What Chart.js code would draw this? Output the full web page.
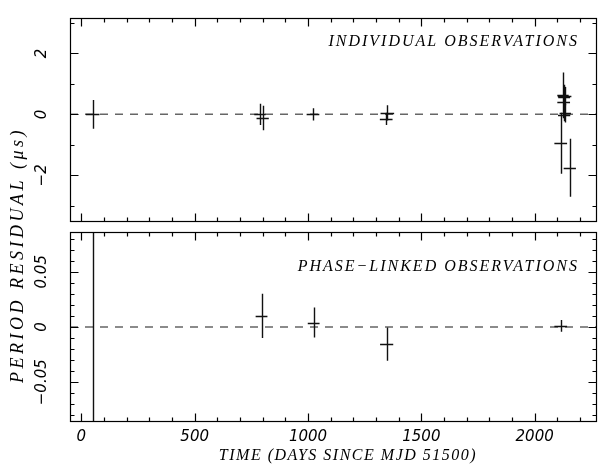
<!DOCTYPE html>
<html><head><meta charset="utf-8">
<script src="https://cdn.jsdelivr.net/npm/chart.js@4"></script>
<style>
html,body{margin:0;padding:0;background:#fff;}
#wrap{position:relative;width:599px;height:468px;}
canvas{position:absolute;left:0;top:0;}
</style></head>
<body><div id="wrap"><canvas id="c1" width="599" height="468"></canvas><canvas id="c2" width="599" height="468"></canvas></div>
<script>
// ---- data ----
const topTime   = [50, 788, 800, 1022, 1350, 1345, 2125, 2128, 2130, 2132, 2135, 2130, 2115, 2155];
const topResid  = [0, 0.0, -0.12, 0.0, 0.05, -0.15, 0.62, 0.42, 0.57, 0.6, 0.03, -0.03, -0.95, -1.75];
const topErr    = [0.47, 0.35, 0.4, 0.2, 0.25, 0.2, 0.75, 0.5, 0.4, 0.3, 0.3, 0.2, 1.0, 0.95];
const topTimeErr= [30, 25, 27, 28, 30, 28, 25, 28, 26, 30, 25, 27, 28, 27];

const botTime   = [52, 795, 1025, 1347, 2115];
const botResid  = [0, 0.01, 0.004, -0.0155, 0.001];
const botErr    = [1, 0.02, 0.0136, 0.015, 0.0053];
const botTimeErr= [0, 26, 26, 29, 28];

const xTicks = [0, 500, 1000, 1500, 2000];
const topYTicks = [-2, 0, 2];
const botYTicks = [-0.05, 0, 0.05];
const topYTickLabels = ['\u22122', '0', '2'];
const botYTickLabels = ['\u22120.05', '0', '0.05'];

const topLabel = 'INDIVIDUAL OBSERVATIONS';
const botLabel = 'PHASE\u2212LINKED OBSERVATIONS';
const xTitle = 'TIME (DAYS SINCE MJD 51500)';
const yTitle = 'PERIOD RESIDUAL (\u03bcs)';

// ---- helpers ----
const X_MIN = -50, X_MAX = 2275;
const SERIF = "italic 16px 'Liberation Serif'";
const TICKFONT = "italic 15px 'DejaVu Sans'";

function mkPoints(t, v, e, te){ return t.map((x,i)=>({x:x, y:v[i], ye:e[i], xe:te[i]})); }

function panelPlugin(cfg){
  return {
    id:'panel',
    afterDatasetsDraw(chart){
      const ctx=chart.ctx, a=chart.chartArea, xs=chart.scales.x, ys=chart.scales.y;
      ctx.save();
      ctx.beginPath(); ctx.rect(a.left,a.top,a.right-a.left,a.bottom-a.top); ctx.clip();
      ctx.strokeStyle='#111'; ctx.lineWidth=1.4;
      chart.data.datasets[1].data.forEach(d=>{
        const px=Math.round(xs.getPixelForValue(d.x))+0.5, py=Math.round(ys.getPixelForValue(d.y))+0.5;
        ctx.beginPath();
        ctx.moveTo(px, ys.getPixelForValue(d.y+d.ye)); ctx.lineTo(px, ys.getPixelForValue(d.y-d.ye));
        if(d.xe>0){ ctx.moveTo(xs.getPixelForValue(d.x-d.xe), py); ctx.lineTo(xs.getPixelForValue(d.x+d.xe), py); }
        ctx.stroke();
      });
      ctx.restore();
    },
    afterDraw(chart){
      const ctx=chart.ctx, a=chart.chartArea, xs=chart.scales.x, ys=chart.scales.y;
      ctx.save();
      ctx.strokeStyle='#000'; ctx.lineWidth=1.2;
      const L=Math.round(a.left)+0.5, R=Math.round(a.right)-0.5, T=Math.round(a.top)+0.5, B=Math.round(a.bottom)-0.5;
      ctx.strokeRect(L,T,R-L,B-T);
      ctx.beginPath();
      for(let v=0; v<=X_MAX; v+=100){
        const p=Math.round(xs.getPixelForValue(v))+0.5; const len=(v%500===0)?8:4;
        ctx.moveTo(p,B); ctx.lineTo(p,B-len); ctx.moveTo(p,T); ctx.lineTo(p,T+len);
      }
      for(let k=Math.ceil(ys.min/cfg.minor-1e-9); k*cfg.minor<=ys.max+1e-12; k++){
        const v=k*cfg.minor; const p=Math.round(ys.getPixelForValue(v))+0.5;
        const major = Math.abs(Math.round(k*cfg.minor/cfg.major)*cfg.major - v) < 1e-9;
        const len = major?8:4;
        ctx.moveTo(L,p); ctx.lineTo(L+len,p); ctx.moveTo(R,p); ctx.lineTo(R-len,p);
      }
      ctx.stroke();
      ctx.fillStyle='#000'; ctx.font=TICKFONT; ctx.textAlign='center'; ctx.textBaseline='middle';
      cfg.yTicks.forEach((v,i)=>{
        const p=ys.getPixelForValue(v);
        ctx.save(); ctx.translate(42,p); ctx.rotate(-Math.PI/2); ctx.fillText(cfg.yLabels[i],0,0); ctx.restore();
      });
      if(cfg.showX){
        xTicks.forEach(v=>{ ctx.fillText(String(v), xs.getPixelForValue(v), 437); });
        ctx.font=SERIF; ctx.letterSpacing='1.5px';
        ctx.fillText(xTitle, 348, 456);
        ctx.font="italic 18px 'Liberation Serif'"; ctx.letterSpacing='3.5px';
        ctx.save(); ctx.translate(18,255); ctx.rotate(-Math.PI/2); ctx.fillText(yTitle,0,0); ctx.restore();
      }
      ctx.font=SERIF; ctx.letterSpacing='2px'; ctx.textAlign='right';
      ctx.fillText(cfg.label, a.right-18, a.top+cfg.labelDy);
      ctx.restore();
    }
  };
}

function makeChart(id, pts, yMin, yMax, pad, cfg){
  return new Chart(document.getElementById(id), {
    type:'scatter',
    data:{datasets:[
      {type:'line', data:[{x:X_MIN,y:0},{x:X_MAX,y:0}], borderColor:'#666', borderWidth:1.5, borderDash:[8,7], pointRadius:0, fill:false},
      {data:pts, pointRadius:0, showLine:false}
    ]},
    options:{
      responsive:false, animation:false, events:[],
      layout:{padding:pad},
      plugins:{legend:{display:false}, tooltip:{enabled:false}},
      scales:{
        x:{type:'linear', min:X_MIN, max:X_MAX, display:false},
        y:{type:'linear', min:yMin, max:yMax, display:false}
      }
    },
    plugins:[panelPlugin(cfg)]
  });
}

makeChart('c1', mkPoints(topTime, topResid, topErr, topTimeErr), -3.53, 3.16,
  {left:70, right:2, top:18, bottom:246},
  {minor:1, major:2, yTicks:topYTicks, yLabels:topYTickLabels, label:topLabel, labelDy:24, showX:false});
makeChart('c2', mkPoints(botTime, botResid, botErr, botTimeErr), -0.086, 0.086,
  {left:70, right:2, top:232, bottom:46},
  {minor:0.01, major:0.05, yTicks:botYTicks, yLabels:botYTickLabels, label:botLabel, labelDy:35, showX:true});
</script>
</body></html>
